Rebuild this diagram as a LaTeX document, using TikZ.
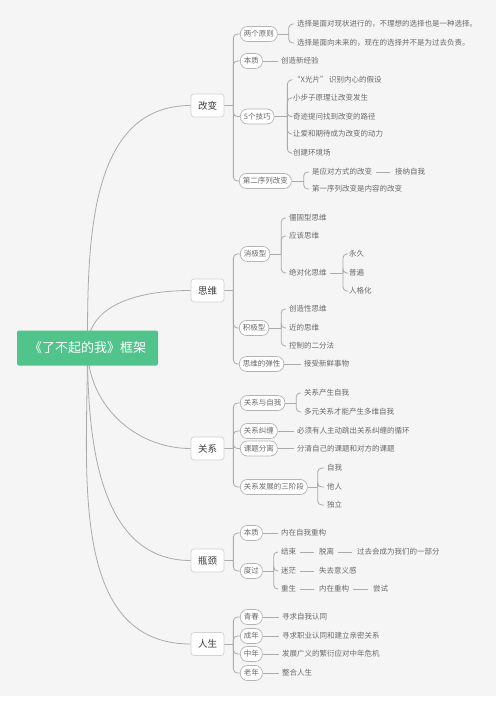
\documentclass[tikz,border=0pt]{standalone}
\usepackage{fontspec}
\setmainfont{Noto Sans CJK SC}
\pgfdeclarelayer{bg}
\pgfdeclarelayer{lines}
\pgfsetlayers{bg,lines,main}
\definecolor{bgc}{HTML}{F5F5F5}
\definecolor{lnc}{HTML}{ABABAB}
\definecolor{txc}{HTML}{6A6A6A}
\definecolor{tdark}{HTML}{3A3A3A}
\definecolor{grn}{HTML}{50C48B}
\definecolor{bone}{HTML}{D2D2D2}
\definecolor{btwo}{HTML}{B4B4B4}
\tikzset{
  root/.style={fill=grn, text=white, rounded corners=2pt, minimum width=141pt, minimum height=35pt, inner sep=0pt, font=\fontsize{13}{15}\selectfont},
  lone/.style={draw=bone, fill=white, line width=0.7pt, rounded corners=3pt, minimum width=33pt, minimum height=23pt, inner sep=0pt, text=tdark, font=\fontsize{9.5}{11}\selectfont},
  ltwo/.style={draw=btwo, fill=white, line width=0.7pt, rounded corners=7pt, minimum height=15pt, inner xsep=3.5pt, inner ysep=0pt, text=txc, anchor=west, font=\fontsize{7.5}{9}\selectfont},
  leaf/.style={inner xsep=3pt, inner ysep=1pt, text=txc, anchor=west, font=\fontsize{7.5}{9}\selectfont},
  conn/.style={draw=lnc, line width=0.8pt},
  brl/.style={conn, rounded corners=4pt},
  chain/.style={conn, shorten <=1pt, shorten >=2pt}
}
\newcommand\stub[2]{\draw[conn] (#1.east) -- ([xshift=#2]#1.east);}
\newcommand\brch[3]{\draw[brl] ([xshift=#3]#1.east) |- (#2.west);}
\begin{document}
\begin{tikzpicture}[x=1pt,y=-1pt]
\begin{pgfonlayer}{bg}
\fill[white] (0,0) rectangle (500,701);
\fill[bgc] (0,0) rectangle (496,696);
\end{pgfonlayer}
\useasboundingbox (0,0) rectangle (500,701);

% root
\node[root] (root) at (87.5,348) {《了不起的我》框架};

% level 1
\node[lone] (A) at (207.5,105.5) {改变};
\node[lone] (B) at (207.5,290.5) {思维};
\node[lone] (C) at (207.5,448.5) {关系};
\node[lone] (D) at (207.5,560.5) {瓶颈};
\node[lone] (E) at (207.5,644) {人生};

% 改变
\node[ltwo] (a1) at (240,34) {两个原则};
\node[leaf] (a11) at (294,24) {选择是面对现状进行的，不理想的选择也是一种选择。};
\node[leaf] (a12) at (294,43) {选择是面向未来的，现在的选择并不是为过去负责。};
\node[ltwo] (a2) at (240,61) {本质};
\node[leaf] (a21) at (278,61) {创造新经验};
\node[ltwo] (a3) at (240,116.5) {5个技巧};
\node[leaf] (a31) at (290,80) {“X光片” 识别内心的假设};
\node[leaf] (a32) at (290,98) {小步子原理让改变发生};
\node[leaf] (a33) at (290,116.5) {奇迹提问找到改变的路径};
\node[leaf] (a34) at (290,134) {让爱和期待成为改变的动力};
\node[leaf] (a35) at (290,153) {创建环境场};
\node[ltwo] (a4) at (239,181) {第二序列改变};
\node[leaf] (a41) at (309,172) {是应对方式的改变};
\node[leaf] (a411) at (392,172) {接纳自我};
\node[leaf] (a42) at (309,189) {第一序列改变是内容的改变};

% 思维
\node[ltwo] (b1) at (240,254) {消极型};
\node[leaf] (b11) at (286,218) {僵固型思维};
\node[leaf] (b12) at (286,236) {应该思维};
\node[leaf] (b13) at (286,273) {绝对化思维};
\node[leaf] (b131) at (346,254) {永久};
\node[leaf] (b132) at (346,273) {普遍};
\node[leaf] (b133) at (346,291) {人格化};
\node[ltwo] (b2) at (239,328) {积极型};
\node[leaf] (b21) at (286,309) {创造性思维};
\node[leaf] (b22) at (286,328) {近的思维};
\node[leaf] (b23) at (286,346) {控制的二分法};
\node[ltwo] (b3) at (239,364) {思维的弹性};
\node[leaf] (b31) at (301,364) {接受新鲜事物};

% 关系
\node[ltwo] (c1) at (240,403) {关系与自我};
\node[leaf] (c11) at (301,393) {关系产生自我};
\node[leaf] (c12) at (301,412) {多元关系才能产生多维自我};
\node[ltwo] (c2) at (240,431) {关系纠缠};
\node[leaf] (c21) at (294,431) {必须有人主动跳出关系纠缠的循环};
\node[ltwo] (c3) at (240,448.5) {课题分离};
\node[leaf] (c31) at (294,448.5) {分清自己的课题和对方的课题};
\node[ltwo] (c4) at (240,487) {关系发展的三阶段};
\node[leaf] (c41) at (324,468) {自我};
\node[leaf] (c42) at (324,487) {他人};
\node[leaf] (c43) at (324,505) {独立};

% 瓶颈
\node[ltwo] (d1) at (240,533) {本质};
\node[leaf] (d11) at (278,533) {内在自我重构};
\node[ltwo] (d2) at (240,571) {度过};
\node[leaf] (d21) at (278,552) {结束};
\node[leaf] (d211) at (316,552) {脱离};
\node[leaf] (d212) at (354,552) {过去会成为我们的一部分};
\node[leaf] (d22) at (278,571) {迷茫};
\node[leaf] (d221) at (316,571) {失去意义感};
\node[leaf] (d23) at (278,589) {重生};
\node[leaf] (d231) at (316,589) {内在重构};
\node[leaf] (d232) at (370,589) {尝试};

% 人生
\node[ltwo] (e1) at (240,617) {青春};
\node[leaf] (e11) at (279,617) {寻求自我认同};
\node[ltwo] (e2) at (240,636) {成年};
\node[leaf] (e21) at (279,636) {寻求职业认同和建立亲密关系};
\node[ltwo] (e3) at (240,654) {中年};
\node[leaf] (e31) at (279,654) {发展广义的繁衍应对中年危机};
\node[ltwo] (e4) at (240,673) {老年};
\node[leaf] (e41) at (279,673) {整合人生};

\begin{pgfonlayer}{lines}
% root to level 1
\draw[conn] (root.center) to[out=90,in=180] (A.west);
\draw[conn] (root.center) to[out=90,in=180] (B.west);
\draw[conn] (root.center) to[out=-90,in=180] (C.west);
\draw[conn] (root.center) to[out=-90,in=180] (D.west);
\draw[conn] (root.center) to[out=-90,in=180] (E.west);

% 改变
\stub{A}{9pt}
\foreach \c in {a1,a2,a3,a4} {\brch{A}{\c}{9pt}}
\stub{a1}{11pt}
\foreach \c in {a11,a12} {\brch{a1}{\c}{11pt}}
\draw[conn] (a2.east) -- (a21.west);
\stub{a3}{13pt}
\foreach \c in {a31,a32,a33,a34,a35} {\brch{a3}{\c}{13pt}}
\stub{a4}{12pt}
\foreach \c in {a41,a42} {\brch{a4}{\c}{12pt}}
\draw[chain] (a41.east) -- (a411.west);

% 思维
\stub{B}{9pt}
\foreach \c in {b1,b2,b3} {\brch{B}{\c}{9pt}}
\stub{b1}{11pt}
\foreach \c in {b11,b12,b13} {\brch{b1}{\c}{11pt}}
\stub{b13}{13pt}
\foreach \c in {b131,b132,b133} {\brch{b13}{\c}{13pt}}
\stub{b2}{12pt}
\foreach \c in {b21,b22,b23} {\brch{b2}{\c}{12pt}}
\draw[conn] (b3.east) -- (b31.west);

% 关系
\stub{C}{9pt}
\foreach \c in {c1,c2,c3,c4} {\brch{C}{\c}{9pt}}
\stub{c1}{11pt}
\foreach \c in {c11,c12} {\brch{c1}{\c}{11pt}}
\draw[conn] (c2.east) -- (c21.west);
\draw[conn] (c3.east) -- (c31.west);
\stub{c4}{10pt}
\foreach \c in {c41,c42,c43} {\brch{c4}{\c}{10pt}}

% 瓶颈
\stub{D}{9pt}
\foreach \c in {d1,d2} {\brch{D}{\c}{9pt}}
\draw[conn] (d1.east) -- (d11.west);
\stub{d2}{11pt}
\foreach \c in {d21,d22,d23} {\brch{d2}{\c}{11pt}}
\draw[chain] (d21.east) -- (d211.west);
\draw[chain] (d211.east) -- (d212.west);
\draw[chain] (d22.east) -- (d221.west);
\draw[chain] (d23.east) -- (d231.west);
\draw[chain] (d231.east) -- (d232.west);

% 人生
\stub{E}{9pt}
\foreach \c in {e1,e2,e3,e4} {\brch{E}{\c}{9pt}}
\draw[conn] (e1.east) -- (e11.west);
\draw[conn] (e2.east) -- (e21.west);
\draw[conn] (e3.east) -- (e31.west);
\draw[conn] (e4.east) -- (e41.west);
\end{pgfonlayer}
\end{tikzpicture}
\end{document}
